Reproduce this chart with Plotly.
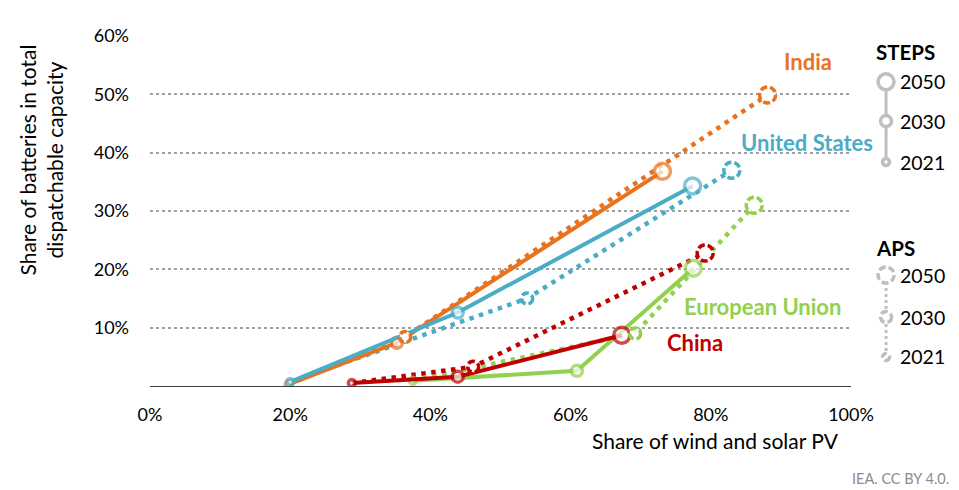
import plotly.graph_objects as go

years = [2021, 2030, 2050]

countries = ["India", "United States", "European Union", "China"]
colors = {"India": "#E8731F", "United States": "#4BACC6",
          "European Union": "#92D050", "China": "#C00000"}

steps_x = {"India": [19.8, 35.2, 73.1], "United States": [20.0, 43.9, 77.4],
           "European Union": [37.5, 60.9, 77.5], "China": [28.8, 43.9, 67.3]}
steps_y = {"India": [0.3, 7.4, 36.8], "United States": [0.7, 12.6, 34.3],
           "European Union": [0.9, 2.6, 20.2], "China": [0.5, 1.6, 8.7]}
aps_x = {"India": [19.8, 36.4, 88.1], "United States": [20.0, 53.8, 83.0],
         "European Union": [37.5, 69.2, 86.2], "China": [28.8, 46.1, 79.2]}
aps_y = {"India": [0.3, 8.4, 49.9], "United States": [0.7, 15.0, 37.0],
         "European Union": [0.9, 9.0, 31.0], "China": [0.5, 3.3, 22.8]}

label_pos = {"India": (93.9, 55.6), "United States": (93.7, 41.7),
             "European Union": (87.4, 13.6), "China": (77.7, 7.4)}

x_ticks = [0, 20, 40, 60, 80, 100]
y_ticks = [10, 20, 30, 40, 50, 60]

FONT = "Lato"
marker_sizes = [7, 11, 16]

fig = go.Figure()
shapes = []

for c in countries:
    col = colors[c]
    fig.add_trace(go.Scatter(x=aps_x[c], y=aps_y[c], mode="lines",
                             line=dict(color=col, width=4.5, dash="4.5px,5.5px"),
                             hoverinfo="skip", showlegend=False))
for c in countries:
    col = colors[c]
    fig.add_trace(go.Scatter(x=steps_x[c], y=steps_y[c], mode="lines+markers",
                             line=dict(color=col, width=4),
                             marker=dict(size=marker_sizes, color="white",
                                         line=dict(color=col, width=3.5)),
                             showlegend=False))
    # APS dashed circles (2030, 2050)
    for i in (1, 2):
        r = marker_sizes[i] / 2
        shapes.append(dict(type="circle", xref="x", yref="y",
                           xsizemode="pixel", ysizemode="pixel",
                           xanchor=aps_x[c][i], yanchor=aps_y[c][i],
                           x0=-r, x1=r, y0=-r, y1=r,
                           line=dict(color=col, width=3.5, dash="7px,3px"),
                           fillcolor="white"))
    lx, ly = label_pos[c]
    fig.add_annotation(x=lx, y=ly, xref="x", yref="y", text="<b>%s</b>" % c,
                       showarrow=False, xanchor="center", yanchor="middle",
                       font=dict(family=FONT, size=22, color=col))

# Legend graphics
gray = "#BFBFBF"
lx = 1.05
steps_ly = [0.64, 0.757, 0.869]
aps_ly = [0.083, 0.197, 0.317]
shapes.append(dict(type="line", xref="paper", yref="paper", x0=lx, x1=lx,
                   y0=steps_ly[0], y1=steps_ly[2], line=dict(color=gray, width=3), layer="below"))
shapes.append(dict(type="line", xref="paper", yref="paper", x0=lx, x1=lx,
                   y0=aps_ly[0], y1=aps_ly[2], line=dict(color=gray, width=3, dash="3px,3px"), layer="below"))
for i, yr in enumerate(years):
    r = marker_sizes[i] / 2
    shapes.append(dict(type="circle", xref="paper", yref="paper",
                       xsizemode="pixel", ysizemode="pixel",
                       xanchor=lx, yanchor=steps_ly[i], x0=-r, x1=r, y0=-r, y1=r,
                       line=dict(color=gray, width=3.5), fillcolor="white"))
    shapes.append(dict(type="circle", xref="paper", yref="paper",
                       xsizemode="pixel", ysizemode="pixel",
                       xanchor=lx, yanchor=aps_ly[i], x0=-r, x1=r, y0=-r, y1=r,
                       line=dict(color=gray, width=3.5, dash="7px,3px"), fillcolor="white"))
    for yy in (steps_ly[i], aps_ly[i]):
        fig.add_annotation(x=1.067, y=yy, xref="paper", yref="paper", text=str(yr),
                           showarrow=False, xanchor="left", yanchor="middle",
                           font=dict(family=FONT, size=19.5, color="#000000"))
fig.add_annotation(x=1.033, y=0.954, xref="paper", yref="paper", text="<b>STEPS</b>",
                   showarrow=False, xanchor="left", yanchor="middle",
                   font=dict(family=FONT, size=20.5, color="#000000"))
fig.add_annotation(x=1.033, y=0.394, xref="paper", yref="paper", text="<b>APS</b>",
                   showarrow=False, xanchor="left", yanchor="middle",
                   font=dict(family=FONT, size=20.5, color="#000000"))

# Axis titles and source
fig.add_annotation(x=-0.156, y=0.646, xref="paper", yref="paper",
                   text="Share of batteries in total<br>dispatchable capacity",
                   textangle=-90, showarrow=False, xanchor="center", yanchor="middle",
                   font=dict(family=FONT, size=21, color="#000000"))
fig.add_annotation(x=0.807, y=-0.155, xref="paper", yref="paper",
                   text="Share of wind and solar PV", showarrow=False,
                   xanchor="center", yanchor="middle",
                   font=dict(family=FONT, size=21, color="#000000"))
fig.add_annotation(x=1.142, y=-0.263, xref="paper", yref="paper",
                   text="IEA. CC BY 4.0.", showarrow=False, xanchor="right", yanchor="middle",
                   font=dict(family=FONT, size=14.5, color="#8C8C8C"))

fig.update_layout(
    width=951, height=482,
    margin=dict(l=142, r=108, t=28, b=104),
    plot_bgcolor="white", paper_bgcolor="white",
    shapes=shapes,
    xaxis=dict(range=[0, 100], tickvals=x_ticks, ticktext=["%d%%" % v for v in x_ticks],
               showgrid=False, zeroline=False, showline=True, linecolor="#404040",
               linewidth=1, ticks="", ticklabelstandoff=12,
               tickfont=dict(family=FONT, size=18, color="#000000")),
    yaxis=dict(range=[0, 60], tickvals=y_ticks, ticktext=["%d%%" % v for v in y_ticks],
               showgrid=True, gridcolor="#A0A0A0", griddash="dot", gridwidth=2,
               zeroline=False, showline=False, ticks="", ticklabelstandoff=20,
               tickfont=dict(family=FONT, size=18, color="#000000")),
)

fig.write_html("out.html")
